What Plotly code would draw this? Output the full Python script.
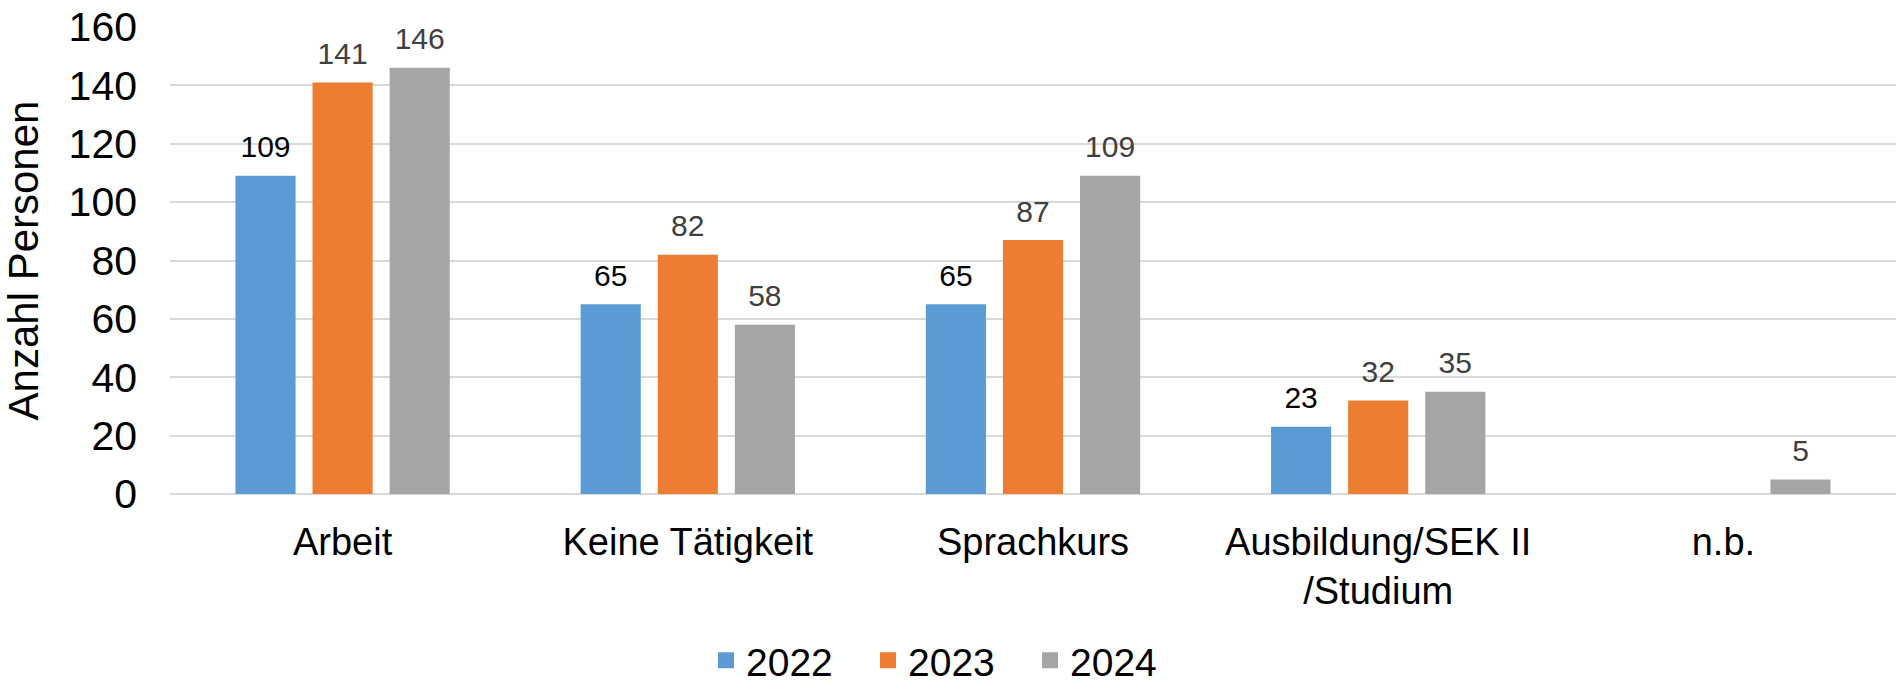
import plotly.graph_objects as go

categories = ["Arbeit", "Keine Tätigkeit", "Sprachkurs", "Ausbildung/SEK II<br>/Studium", "n.b."]
years = ["2022", "2023", "2024"]
values_2022 = [109, 65, 65, 23, None]
values_2023 = [141, 82, 87, 32, None]
values_2024 = [146, 58, 109, 35, 5]
y_ticks = [0, 20, 40, 60, 80, 100, 120, 140, 160]

series = [values_2022, values_2023, values_2024]
colors = ["#5B9BD5", "#ED7D31", "#A5A5A5"]
label_colors = ["#000000", "#404040", "#404040"]
FONT = "Liberation Sans, Arial, sans-serif"

fig = go.Figure()
for name, vals, col in zip(years, series, colors):
    fig.add_trace(go.Bar(
        x=categories, y=vals, name=name, marker=dict(color=col, line=dict(width=0)),
        offsetgroup=name, showlegend=False, hoverinfo="skip",
    ))
for name, vals, col, lc in zip(years, series, colors, label_colors):
    fig.add_trace(go.Scatter(
        x=categories, y=vals, mode="markers+text", name=name,
        text=[("" if v is None else str(v)) for v in vals],
        textposition="top center",
        textfont=dict(family=FONT, size=30, color=lc),
        marker=dict(size=16, opacity=0, color=col),
        offsetgroup=name, showlegend=False, cliponaxis=False, hoverinfo="skip",
    ))
for name, col in zip(years, colors):
    fig.add_trace(go.Scatter(
        x=[None], y=[None], mode="markers", name=name,
        marker=dict(symbol="square", size=16, color=col),
        offsetgroup=name, showlegend=True,
    ))

fig.update_layout(
    width=1898, height=683,
    paper_bgcolor="white", plot_bgcolor="white",
    barmode="group", bargap=0.33, bargroupgap=0.22,
    scattermode="group", scattergap=0.33,
    margin=dict(l=170, r=2, t=27, b=189),
    font=dict(family=FONT, color="#000000"),
    showlegend=True,
    legend=dict(
        orientation="h", xref="container", x=0.5, xanchor="center",
        yref="container", y=0.033, yanchor="middle",
        font=dict(family=FONT, size=39, color="#000000"),
        itemsizing="trace", entrywidth=117, traceorder="normal",
    ),
    xaxis=dict(
        type="category", categoryorder="array", categoryarray=categories,
        tickfont=dict(family=FONT, size=38, color="#000000"),
        showgrid=False, showline=False, ticks="", ticklabelstandoff=22,
    ),
    yaxis=dict(
        range=[0, 160], tickvals=y_ticks, ticktext=[str(t) for t in y_ticks],
        tickfont=dict(family=FONT, size=41, color="#000000"),
        showgrid=True, gridcolor="#D9D9D9", gridwidth=1.5,
        zeroline=True, zerolinecolor="#D9D9D9", zerolinewidth=1.5,
        showline=False, ticks="", ticklabelstandoff=32,
        title=dict(text="Anzahl Personen", font=dict(family=FONT, size=42, color="#000000"), standoff=16),
    ),
)

fig.write_html(
    "out.html",
    config={"displayModeBar": False},
    post_script="document.body.style.margin='0px'; document.body.style.overflow='hidden';",
)
